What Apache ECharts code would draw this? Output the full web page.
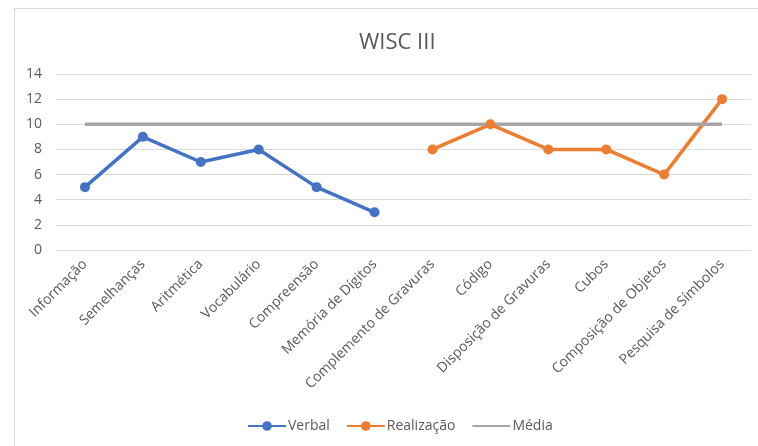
<!DOCTYPE html>
<html><head><meta charset="utf-8">
<script src="https://cdn.jsdelivr.net/npm/echarts@6/dist/echarts.min.js"></script>
<style>
html,body{margin:0;padding:0;background:#fff;}
#wrap{position:relative;width:758px;height:446px;overflow:hidden;}
#frame{position:absolute;left:14px;top:8px;width:760px;height:460px;border:1px solid #d9d9d9;box-sizing:border-box;}
#chart{position:absolute;left:0;top:0;width:758px;height:446px;}
</style></head>
<body><div id="wrap"><div id="frame"></div><div id="chart"></div></div>
<script>
const categories = ["Informação","Semelhanças","Aritmética","Vocabulário","Compreensão","Memória de Dígitos","Complemento de Gravuras","Código","Disposição de Gravuras","Cubos","Composição de Objetos","Pesquisa de Símbolos"];
const verbal = [5,9,7,8,5,3,null,null,null,null,null,null];
const realizacao = [null,null,null,null,null,null,8,10,8,8,6,12];
const media = [10,10,10,10,10,10,10,10,10,10,10,10];

const chart = echarts.init(document.getElementById('chart'));
const txt = '#595959';
const font = 'Open Sans';
chart.setOption({
  animation:false,
  title:{text:'WISC III',left:354,top:27,textStyle:{color:txt,fontSize:22,fontWeight:'normal',fontFamily:font}},
  grid:{left:56,right:7,top:74,bottom:196},
  legend:{bottom:8,left:242,itemWidth:38,itemHeight:12,itemGap:16,
    textStyle:{color:txt,fontSize:14,fontFamily:font,padding:[0,0,0,-3]},
    data:['Verbal','Realização',{name:'Média',itemStyle:{opacity:0}}]},
  xAxis:{type:'category',data:categories,boundaryGap:true,
    axisLine:{lineStyle:{color:'#d9d9d9'}},axisTick:{show:false},
    axisLabel:{rotate:45,interval:0,color:txt,fontSize:14,fontFamily:font,margin:12}},
  yAxis:{type:'value',min:0,max:14,interval:2,
    axisLine:{show:false},axisTick:{show:false},
    axisLabel:{color:txt,fontSize:14,fontFamily:font,margin:14},
    splitLine:{lineStyle:{color:'#d9d9d9'}}},
  series:[
    {name:'Verbal',type:'line',data:verbal,color:'#4472c4',symbol:'circle',symbolSize:10,lineStyle:{width:3.5}},
    {name:'Realização',type:'line',data:realizacao,color:'#ed7d31',symbol:'circle',symbolSize:10,lineStyle:{width:3.5}},
    {name:'Média',type:'line',data:media,color:'#a5a5a5',symbol:'none',lineStyle:{width:3.5}}
  ]
});
</script></body></html>
